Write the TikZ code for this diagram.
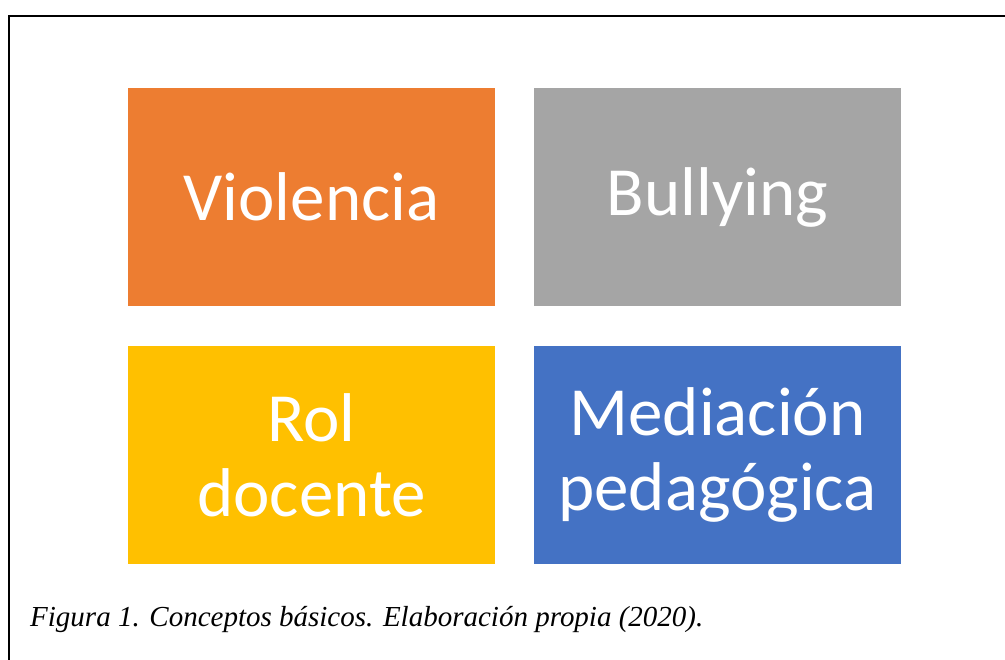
\documentclass[tikz,border=0pt]{standalone}
\usepackage{fontspec}
\setmainfont{Liberation Serif}
\newfontfamily\boxfont{Carlito}
\usepackage{tikz}
\definecolor{violcol}{HTML}{ED7D31}
\definecolor{bullycol}{HTML}{A5A5A5}
\definecolor{rolcol}{HTML}{FFC000}
\definecolor{medcol}{HTML}{4472C4}
\tikzset{
	concepto/.style={fill=#1, text=white, minimum width=367pt, minimum height=218pt, inner sep=0pt,
		align=center, font=\boxfont\fontsize{69}{75}\selectfont},
}

\begin{document}
\begin{tikzpicture}[x=1pt,y=-1pt]
	% fix the page to the reference size
	\useasboundingbox (0,0) rectangle (1005,660);
	% outer frame, cut at right and bottom
	\draw[line width=2.4pt] (9,16) rectangle (1015,670);
	
	% the four concepts
	\node[concepto=violcol] (violencia) at (311.5,197) {Violencia};
	\node[concepto=bullycol] (bullying) at (717.5,197) {Bullying};
	\node[concepto=rolcol] (rol) at (311.5,455) {Rol\\docente};
	\node[concepto=medcol] (mediacion) at (717.5,455) {Mediación\\pedagógica};
	
	% caption
	\node[anchor=base west, inner sep=0pt, font=\itshape\fontsize{29}{34}\selectfont] (caption) at (30,626) {Figura 1. Conceptos básicos. Elaboración propia (2020).};
\end{tikzpicture}
\end{document}
